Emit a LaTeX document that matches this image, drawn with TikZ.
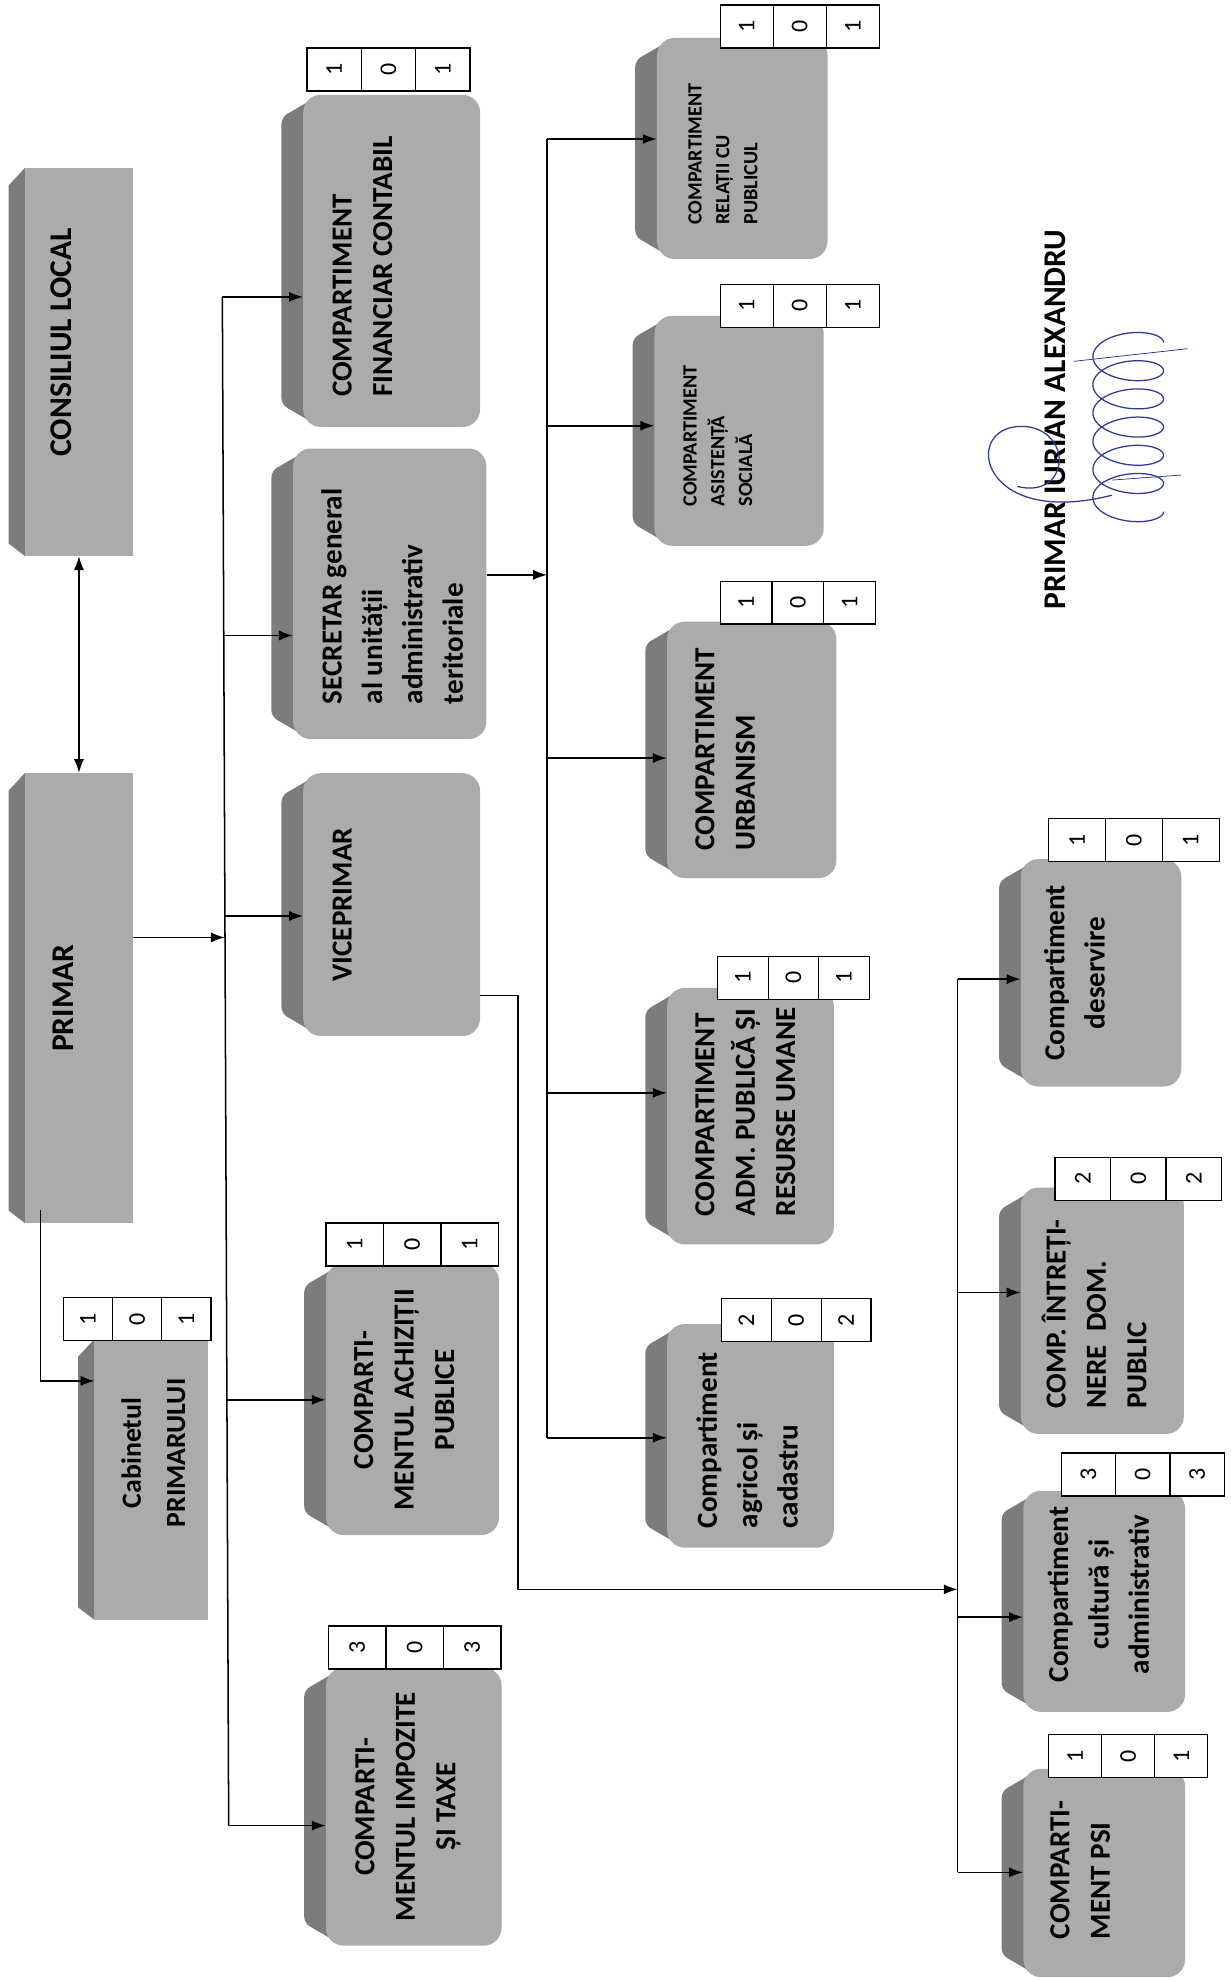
\documentclass[tikz,border=0pt]{standalone}
\usepackage{fontspec}
\setmainfont{Carlito}
\usetikzlibrary{arrows.meta,calc,backgrounds}
\definecolor{faceclr}{HTML}{ABABAB}
\definecolor{sideclr}{HTML}{7C7C7C}
\definecolor{inkblue}{HTML}{2B3A9B}
\tikzset{
	face/.style={fill=faceclr,rounded corners=14pt,inner sep=0pt},
	flatface/.style={fill=faceclr,inner sep=0pt},
	lbl/.style={inner sep=0pt,font=\bfseries\fontsize{23}{32}\selectfont},
	biglbl/.style={inner sep=0pt,font=\bfseries\fontsize{25}{32}\selectfont},
	smalllbl/.style={inner sep=0pt,font=\bfseries\fontsize{16}{22}\selectfont},
	cell/.style={draw,fill=white,line width=1pt,minimum height=34pt,inner sep=0pt,font=\fontsize{19}{19}\selectfont},
	link/.style={line width=1.2pt,-{Latex[length=11pt,width=8pt]}},
	bus/.style={line width=1.2pt},
	sig/.style={inkblue,line width=1pt}
}
\newcommand{\vlines}[2]{\rotatebox{90}{\begin{tabular}{@{}#1@{}}#2\end{tabular}}}
\newcommand{\sideof}[1]{\begin{scope}[on background layer]
	\fill[sideclr,rounded corners=5pt] ($(#1.north west)+(-17,18)$) -- ($(#1.north west)+(14,0)$) -- ($(#1.south west)+(14,0)$) -- ($(#1.south west)+(-17,-18)$) -- cycle;
	\end{scope}}
\newcommand{\flatside}[1]{\begin{scope}[on background layer]
	\fill[sideclr] ($(#1.north west)+(-13,14)$) -- (#1.north west) -- (#1.south west) -- ($(#1.south west)+(-13,-10)$) -- cycle;
	\end{scope}}
\newcommand{\posts}[7]{%
	\node[cell,minimum width=#4pt] (#1-a) at (#2+0.5*#4,#3+17) {\rotatebox{90}{#5}};
	\node[cell,minimum width=#4pt] (#1-b) at (#2+1.5*#4,#3+17) {\rotatebox{90}{#6}};
	\node[cell,minimum width=#4pt] (#1-c) at (#2+2.5*#4,#3+17) {\rotatebox{90}{#7}};}
\begin{document}
\begin{tikzpicture}[x=1pt,y=-1pt]
	\useasboundingbox (0,0) rectangle (974,1568);
	% left column
	\node[flatface,minimum width=85pt,minimum height=307pt] (consiliu) at (62.5,286.5) {};
	\flatside{consiliu}
	\node[biglbl] (consiliu-t) at (50,271) {\vlines{c}{CONSILIUL LOCAL}};
	\node[flatface,minimum width=85pt,minimum height=356pt] (primar) at (62.5,790) {};
	\flatside{primar}
	\node[biglbl] (primar-t) at (52,790) {\vlines{c}{PRIMAR}};
	\node[flatface,minimum width=90pt,minimum height=222pt] (cabinet) at (120,1171) {};
	\flatside{cabinet}
	\node[lbl,font=\bfseries\fontsize{22}{35}\selectfont] (cabinet-t) at (122,1150) {\vlines{c}{Cabinetul\\PRIMARULUI}};
	\posts{cabinet}{50}{1027}{39}{1}{0}{1}
	% second column
	\node[face,minimum width=140pt,minimum height=263pt] (fin) at (310,206.5) {};
	\sideof{fin}
	\node[lbl] (fin-t) at (288,211) {\vlines{l}{COMPARTIMENT\\FINANCIAR CONTABIL}};
	\posts{fin}{243}{38}{43}{1}{0}{1}
	\node[face,minimum width=153pt,minimum height=230pt] (secretar) at (308.5,470) {};
	\sideof{secretar}
	\node[lbl] (secretar-t) at (312,472) {\vlines{l}{SECRETAR general\\al unității\\administrativ\\teritoriale}};
	\node[face,minimum width=140pt,minimum height=208pt] (vice) at (310,716) {};
	\sideof{vice}
	\node[lbl] (vice-t) at (272,716) {\vlines{c}{VICEPRIMAR}};
	\node[face,minimum width=137pt,minimum height=215pt] (achiz) at (326.5,1107.5) {};
	\sideof{achiz}
	\node[lbl] (achiz-t) at (321,1108) {\vlines{c}{COMPARTI-\\MENTUL ACHIZIȚII\\PUBLICE}};
	\posts{achiz}{258}{968}{45.5}{1}{0}{1}
	\node[face,minimum width=139pt,minimum height=220pt] (impoz) at (327.5,1430) {};
	\sideof{impoz}
	\node[lbl] (impoz-t) at (322,1430) {\vlines{c}{COMPARTI-\\MENTUL IMPOZITE\\ȘI TAXE}};
	\posts{impoz}{260}{1287}{45.5}{3}{0}{3}
	% third column
	\node[face,minimum width=135pt,minimum height=175pt] (relatii) at (587.5,117.5) {};
	\sideof{relatii}
	\node[smalllbl] (relatii-t) at (573,122) {\vlines{l}{COMPARTIMENT\\RELAȚII CU\\PUBLICUL}};
	\posts{relatii}{570}{4}{42}{1}{0}{1}
	\node[face,minimum width=134pt,minimum height=182pt] (asist) at (585,341) {};
	\sideof{asist}
	\node[smalllbl] (asist-t) at (569,345) {\vlines{l}{COMPARTIMENT\\ASISTENȚĂ\\SOCIALĂ}};
	\posts{asist}{570}{225}{42}{1}{0}{1}
	\node[face,minimum width=134pt,minimum height=203pt] (urban) at (595,593.5) {};
	\sideof{urban}
	\node[lbl] (urban-t) at (575,593) {\vlines{l}{COMPARTIMENT\\URBANISM}};
	\posts{urban}{570}{460}{41}{1}{0}{1}
	\node[face,minimum width=132pt,minimum height=203pt] (adm) at (594,883.5) {};
	\sideof{adm}
	\node[lbl] (adm-t) at (591,880) {\vlines{l}{COMPARTIMENT\\ADM. PUBLICĂ ȘI\\RESURSE UMANE}};
	\posts{adm}{568}{757}{40}{1}{0}{1}
	\node[face,minimum width=132pt,minimum height=177pt] (agricol) at (594,1136.5) {};
	\sideof{agricol}
	\node[lbl] (agricol-t) at (593,1140) {\vlines{l}{Compartiment\\agricol și\\cadastru}};
	\posts{agricol}{571}{1028}{39.5}{2}{0}{2}
	% fourth column
	\node[face,minimum width=127pt,minimum height=180pt] (deserv) at (871.5,770) {};
	\sideof{deserv}
	\node[lbl] (deserv-t) at (852,770) {\vlines{c}{Compartiment\\deservire}};
	\posts{deserv}{830}{648}{45}{1}{0}{1}
	\node[face,minimum width=129pt,minimum height=195pt] (intret) at (872.5,1037.5) {};
	\sideof{intret}
	\node[lbl] (intret-t) at (869,1040) {\vlines{l}{COMP. ÎNTREȚI-\\NERE~ DOM.\\PUBLIC}};
	\posts{intret}{835}{916}{44}{2}{0}{2}
	\node[face,minimum width=128pt,minimum height=175pt] (cultura) at (874,1267.5) {};
	\sideof{cultura}
	\node[lbl] (cultura-t) at (871,1262) {\vlines{c}{Compartiment\\cultură și\\administrativ}};
	\posts{cultura}{840}{1150}{43}{3}{0}{3}
	\node[face,minimum width=128pt,minimum height=165pt] (psi) at (874,1482.5) {};
	\sideof{psi}
	\node[lbl] (psi-t) at (856,1480) {\vlines{l}{COMPARTI-\\MENT PSI}};
	\posts{psi}{830}{1373}{42}{1}{0}{1}
	% junctions
	\coordinate (b1top) at (176,235);
	\coordinate (b1sec) at (177,503);
	\coordinate (b1pri) at (178,742);
	\coordinate (b1vic) at (178,725);
	\coordinate (b1ach) at (180,1108);
	\coordinate (b1bot) at (181,1445);
	\coordinate (k0) at (32,958);
	\coordinate (k1) at (32,1093);
	\coordinate (s0) at (433,455);
	\coordinate (b2top) at (433,110);
	\coordinate (b2as) at (433,337);
	\coordinate (b2ur) at (433,600);
	\coordinate (b2ad) at (433,865);
	\coordinate (b2bot) at (433,1138);
	\coordinate (v0) at (410,788);
	\coordinate (v1) at (410,1258);
	\coordinate (v2) at (758,1258);
	\coordinate (b3top) at (758,775);
	\coordinate (b3in) at (758,1023);
	\coordinate (b3cu) at (758,1280);
	\coordinate (b3bot) at (758,1482);
	% connectors
	\draw[line width=1.2pt,{Latex[length=11pt,width=8pt]}-{Latex[length=11pt,width=8pt]}] (consiliu.south) -- (primar.north);
	\draw[link] (primar.east |- b1pri) -- (b1pri);
	\draw[link] (k0) -- (k1) -- (k1 -| cabinet.west);
	\draw[bus] (b1top) -- (b1bot);
	\draw[link] (b1top) -- (b1top -| fin.west);
	\draw[link] (b1sec) -- (b1sec -| secretar.west);
	\draw[link] (b1vic) -- (b1vic -| vice.west);
	\draw[link] (b1ach) -- (b1ach -| achiz.west);
	\draw[link] (b1bot) -- (b1bot -| impoz.west);
	\draw[link] (secretar.east |- s0) -- (s0);
	\draw[bus] (b2top) -- (b2bot);
	\draw[link] (b2top) -- (b2top -| relatii.west);
	\draw[link] (b2as) -- (b2as -| asist.west);
	\draw[link] (b2ur) -- (b2ur -| urban.west);
	\draw[link] (b2ad) -- (b2ad -| adm.west);
	\draw[link] (b2bot) -- (b2bot -| agricol.west);
	\draw[link] (vice.east |- v0) -- (v0) -- (v1) -- (v2);
	\draw[bus] (b3top) -- (b3bot);
	\draw[link] (b3top) -- (b3top -| deserv.west);
	\draw[link] (b3in) -- (b3in -| intret.west);
	\draw[link] (b3cu) -- (b3cu -| cultura.west);
	\draw[link] (b3bot) -- (b3bot -| psi.west);
	% signature
	\node[biglbl] (semnatura) at (835,332) {\rotatebox{90}{PRIMAR IURIAN ALEXANDRU}};
	\draw[sig] plot[smooth,domain=0:2160,samples=240,variable=\t] ({893+28*cos(\t)},{405-0.062*\t+13*sin(\t)});
	\draw[sig] (880,392) .. controls (770,420) and (760,330) .. (815,338) .. controls (850,345) and (845,395) .. (805,385);
	\draw[sig,line width=0.6pt] (850,286) -- (940,276);
	\draw[sig,line width=0.6pt] (880,380) -- (935,376);
\end{tikzpicture}
\end{document}
